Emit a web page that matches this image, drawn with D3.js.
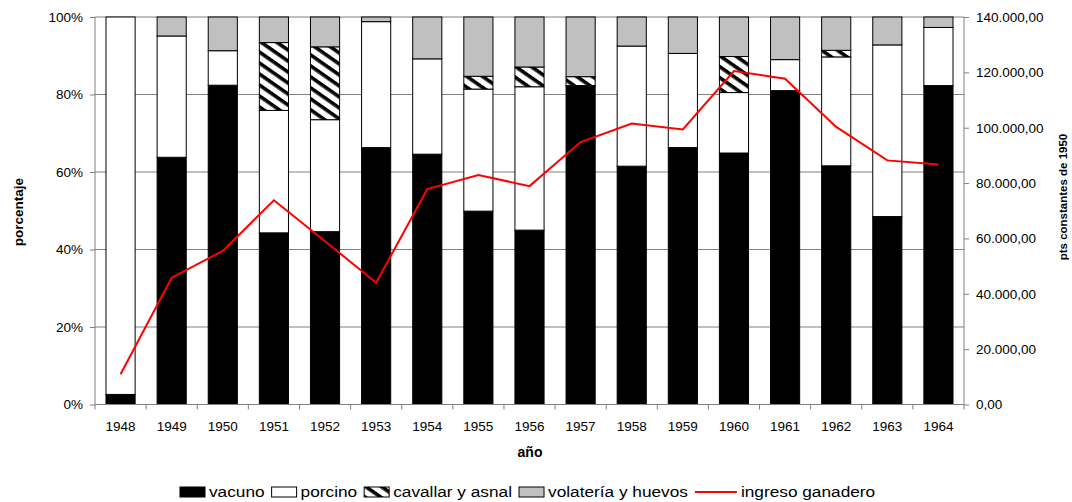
<!DOCTYPE html>
<html>
<head>
<meta charset="utf-8">
<script src="https://cdnjs.cloudflare.com/ajax/libs/d3/7.8.5/d3.min.js"></script>
<style>
  body { margin: 0; background: #fff; }
  svg text { font-family: "Liberation Sans", Arial, sans-serif; fill: #000; }
</style>
</head>
<body>
<svg id="chart" width="1072" height="502"></svg>
<script>
// data
var years = ["1948","1949","1950","1951","1952","1953","1954","1955","1956","1957","1958","1959","1960","1961","1962","1963","1964"];
var vacuno    = [2.6, 63.8, 82.4, 44.3, 44.6, 66.3, 64.6, 49.9, 45.0, 82.3, 61.5, 66.3, 64.9, 81.0, 61.6, 48.5, 82.3];
var porcino   = [97.4, 31.3, 8.9, 31.6, 28.9, 32.5, 24.6, 31.5, 37.0, 0, 31.0, 24.3, 15.6, 8.0, 28.1, 44.3, 15.0];
var cavallar  = [0, 0, 0, 17.5, 18.8, 0, 0, 3.3, 5.1, 2.3, 0, 0, 9.3, 0, 1.7, 0, 0];
var volateria = [0, 4.9, 8.7, 6.6, 7.7, 1.2, 10.8, 15.3, 12.9, 15.4, 7.5, 9.4, 10.2, 11.0, 8.6, 7.2, 2.7];
var ingreso   = [10900, 45800, 55500, 73800, 59000, 44000, 77800, 82900, 78900, 94800, 101500, 99400, 120500, 117700, 100300, 88200, 86700];

var seriesKeys  = ["vacuno", "porcino", "cavallar", "volateria"];
var seriesNames = ["vacuno", "porcino", "cavallar y asnal", "volatería y huevos"];
var pctTicks = [0, 20, 40, 60, 80, 100];
var moneyTicks = [0, 20000, 40000, 60000, 80000, 100000, 120000, 140000];

var rows = years.map(function(y, i) {
    return {year: y, vacuno: vacuno[i], porcino: porcino[i], cavallar: cavallar[i], volateria: volateria[i], ingreso: ingreso[i]};
});

var svg = d3.select("#chart");
var pLeft = 95, pRight = 964, pTop = 17, pBottom = 404.5;

var defs = svg.append("defs");
var pat = defs.append("pattern")
    .attr("id", "hatch")
    .attr("patternUnits", "userSpaceOnUse")
    .attr("width", 9).attr("height", 9)
    .attr("patternTransform", "rotate(35)");
pat.append("rect").attr("width", 9).attr("height", 9).attr("fill", "#fff");
pat.append("rect").attr("width", 9).attr("height", 3.6).attr("fill", "#000");

var fills = {vacuno: "#000", porcino: "#fff", cavallar: "url(#hatch)", volateria: "#c0c0c0"};

var x = d3.scaleBand().domain(years).range([pLeft, pRight])
    .paddingInner(0.43).paddingOuter(0.215);
var y = d3.scaleLinear().domain([0, 100]).range([pBottom, pTop]);
var y2 = d3.scaleLinear().domain([0, 140000]).range([pBottom, pTop]);

var es = d3.formatLocale({decimal: ",", thousands: ".", grouping: [3], currency: ["", ""]});
var fmtMoney = es.format(",.2f");

// gridlines
svg.append("g").selectAll("line")
    .data(pctTicks.filter(function(d) { return d > 0; }))
    .enter().append("line")
    .attr("x1", pLeft).attr("x2", pRight)
    .attr("y1", function(d) { return y(d); })
    .attr("y2", function(d) { return y(d); })
    .attr("stroke", "#808080").attr("stroke-width", 1);

// stacked bars
var stack = d3.stack().keys(seriesKeys);
var layers = stack(rows);

svg.append("g").selectAll("g")
    .data(layers)
    .enter().append("g")
    .attr("fill", function(d) { return fills[d.key]; })
    .selectAll("rect")
    .data(function(d) { return d.filter(function(p) { return p[1] - p[0] > 0; }); })
    .enter().append("rect")
    .attr("x", function(d) { return x(d.data.year); })
    .attr("width", x.bandwidth())
    .attr("y", function(d) { return y(d[1]); })
    .attr("height", function(d) { return y(d[0]) - y(d[1]); })
    .attr("stroke", "#000").attr("stroke-width", 1);

// left axis
var yAxis = d3.axisLeft(y).tickValues(pctTicks).tickSize(5).tickPadding(7)
    .tickFormat(function(d) { return d + "%"; });
var gY = svg.append("g").attr("transform", "translate(" + pLeft + ",0)").call(yAxis);

// right axis
var y2Axis = d3.axisRight(y2).tickValues(moneyTicks).tickSize(5).tickPadding(7)
    .tickFormat(fmtMoney);
var gY2 = svg.append("g").attr("transform", "translate(" + pRight + ",0)").call(y2Axis);

// bottom axis, ticks at category boundaries
var gX = svg.append("g").attr("transform", "translate(0," + pBottom + ")");
gX.append("line").attr("x1", pLeft).attr("x2", pRight).attr("stroke", "#808080");
var step = x.step();
gX.selectAll("line.tk")
    .data(d3.range(years.length + 1))
    .enter().append("line").attr("class", "tk")
    .attr("x1", function(i) { return pLeft + i * step; })
    .attr("x2", function(i) { return pLeft + i * step; })
    .attr("y1", 0).attr("y2", 5)
    .attr("stroke", "#808080");
gX.selectAll("text")
    .data(years)
    .enter().append("text")
    .attr("x", function(d) { return x(d) + x.bandwidth() / 2; })
    .attr("y", 21.5)
    .attr("dy", "0.35em")
    .attr("text-anchor", "middle")
    .style("font-size", "13.5px")
    .text(function(d) { return d; });

[gY, gY2].forEach(function(g) {
    g.selectAll("path.domain").attr("stroke", "#808080");
    g.selectAll(".tick line").attr("stroke", "#808080");
    g.selectAll(".tick text").style("font-size", "13.5px");
    g.attr("font-family", null).attr("font-size", null);
});
gY.selectAll("path.domain").attr("d", "M0," + pTop + "V" + pBottom);
gY2.selectAll("path.domain").attr("d", "M0," + pTop + "V" + pBottom);

// ingreso line
var line = d3.line()
    .x(function(d) { return x(d.year) + x.bandwidth() / 2; })
    .y(function(d) { return y2(d.ingreso); });
svg.append("path")
    .datum(rows)
    .attr("d", line)
    .attr("fill", "none")
    .attr("stroke", "#ff0000")
    .attr("stroke-width", 2);

// axis titles
svg.append("text")
    .attr("x", 530).attr("y", 452).attr("dy", "0.35em")
    .attr("text-anchor", "middle")
    .style("font-size", "14px").style("font-weight", "bold")
    .text("año");
svg.append("text")
    .attr("transform", "translate(23,212) rotate(-90)")
    .attr("text-anchor", "middle")
    .style("font-size", "13.5px").style("font-weight", "bold")
    .text("porcentaje");
svg.append("text")
    .attr("transform", "translate(1067,197) rotate(-90)")
    .attr("text-anchor", "middle")
    .style("font-size", "11.5px").style("font-weight", "bold")
    .text("pts constantes de 1950");

// legend (text is drawn a little wider than normal, as in the original)
var legendItems = seriesKeys.map(function(k, i) { return {key: k, name: seriesNames[i], type: "box"}; });
legendItems.push({key: "ingreso", name: "ingreso ganadero", type: "line"});

var stretch = 1.15;
var lg = svg.append("g").attr("transform", "translate(0,492)");
var lx = 180;
legendItems.forEach(function(it) {
    var sw = it.type === "box" ? 25 : 42;
    if (it.type === "box") {
        lg.append("rect")
            .attr("x", lx).attr("y", -5).attr("width", sw).attr("height", 10)
            .attr("fill", fills[it.key]).attr("stroke", "#000");
    } else {
        lg.append("line")
            .attr("x1", lx).attr("x2", lx + sw).attr("y1", 0).attr("y2", 0)
            .attr("stroke", "#ff0000").attr("stroke-width", 2);
    }
    var t = lg.append("text")
        .attr("transform", "translate(" + (lx + sw + 4) + ",0) scale(" + stretch + ",1)")
        .attr("dy", "0.35em")
        .style("font-size", "15px")
        .text(it.name);
    lx += sw + 4 + t.node().getComputedTextLength() * stretch + 7;
});
</script>
</body>
</html>
